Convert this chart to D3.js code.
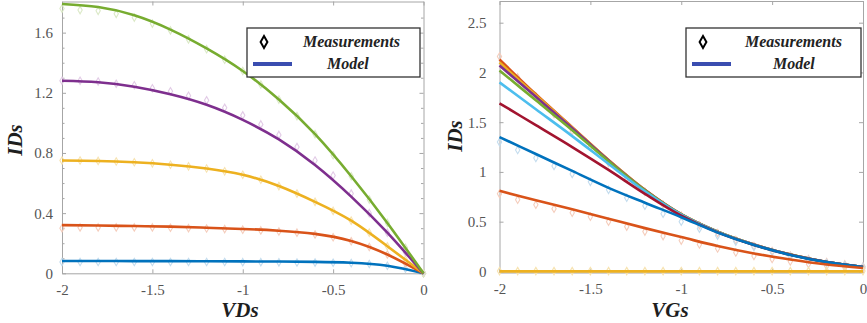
<!DOCTYPE html>
<html>
<head>
<meta charset="utf-8">
<script src="https://cdn.jsdelivr.net/npm/d3@7"></script>
<style>
  html, body { margin: 0; padding: 0; background: #fff; }
  svg { display: block; }
  .axis path, .axis line { stroke: #a6a6a6; }
</style>
</head>
<body>
<svg id="chart" width="867" height="323"></svg>
<script>
// ---------- Output characteristics: IDs vs VDs ----------
const vdsModel = [-2, -1.8, -1.6, -1.4, -1.2, -1, -0.8, -0.6, -0.4, -0.2, 0];
const vdsMeas  = [-2, -1.9, -1.8, -1.7, -1.6, -1.5, -1.4, -1.3, -1.2, -1.1, -1, -0.9, -0.8, -0.7, -0.6, -0.5, -0.4, -0.3, -0.2, -0.1, 0];

const outBlueModel   = [0.082, 0.082, 0.081, 0.081, 0.080, 0.079, 0.078, 0.076, 0.070, 0.050, 0];
const outOrangeModel = [0.320, 0.318, 0.314, 0.310, 0.303, 0.295, 0.283, 0.262, 0.215, 0.125, 0];
const outYellowModel = [0.750, 0.747, 0.738, 0.722, 0.697, 0.655, 0.580, 0.475, 0.350, 0.180, 0];
const outPurpleModel = [1.280, 1.270, 1.240, 1.190, 1.120, 1.020, 0.890, 0.720, 0.510, 0.270, 0];
const outGreenModel  = [1.790, 1.770, 1.715, 1.620, 1.495, 1.345, 1.155, 0.925, 0.645, 0.335, 0];

const outBlueMeas   = [0.075, 0.075, 0.075, 0.075, 0.075, 0.075, 0.075, 0.075, 0.075, 0.075, 0.074, 0.074, 0.073, 0.072, 0.071, 0.070, 0.068, 0.062, 0.050, 0.030, 0];
const outOrangeMeas = [0.300, 0.305, 0.305, 0.305, 0.305, 0.305, 0.303, 0.300, 0.298, 0.294, 0.290, 0.285, 0.278, 0.270, 0.258, 0.240, 0.213, 0.175, 0.125, 0.065, 0];
const outYellowMeas = [0.750, 0.750, 0.747, 0.743, 0.738, 0.731, 0.722, 0.711, 0.697, 0.678, 0.655, 0.622, 0.580, 0.530, 0.475, 0.415, 0.350, 0.270, 0.180, 0.090, 0];
const outPurpleMeas = [1.280, 1.280, 1.275, 1.260, 1.250, 1.230, 1.210, 1.180, 1.150, 1.100, 1.050, 0.990, 0.920, 0.840, 0.750, 0.650, 0.530, 0.400, 0.270, 0.140, 0];
const outGreenMeas  = [1.760, 1.750, 1.745, 1.725, 1.700, 1.660, 1.615, 1.555, 1.490, 1.420, 1.345, 1.255, 1.155, 1.045, 0.925, 0.785, 0.645, 0.490, 0.335, 0.170, 0];

// ---------- Transfer characteristics: IDs vs VGs ----------
const vgsModel = [-2, -1.8, -1.6, -1.4, -1.2, -1, -0.8, -0.6, -0.4, -0.2, 0];
const vgsMeas  = [-2, -1.9, -1.8, -1.7, -1.6, -1.5, -1.4, -1.3, -1.2, -1.1, -1, -0.9, -0.8, -0.7, -0.6, -0.5, -0.4, -0.3, -0.2, -0.1, 0];

const trOrange1Model = [2.130, 1.780, 1.450, 1.120, 0.820, 0.575, 0.400, 0.270, 0.170, 0.095, 0.045];
const trYellow1Model = [2.100, 1.770, 1.445, 1.118, 0.819, 0.574, 0.400, 0.270, 0.170, 0.095, 0.045];
const trPurpleModel  = [2.070, 1.755, 1.438, 1.115, 0.818, 0.573, 0.399, 0.270, 0.170, 0.095, 0.045];
const trGreenModel   = [2.020, 1.720, 1.420, 1.108, 0.815, 0.572, 0.398, 0.269, 0.169, 0.095, 0.045];
const trCyanModel    = [1.900, 1.630, 1.360, 1.080, 0.805, 0.570, 0.397, 0.268, 0.168, 0.094, 0.045];
const trRedModel     = [1.690, 1.470, 1.250, 1.020, 0.780, 0.560, 0.392, 0.266, 0.167, 0.094, 0.045];
const trBlueModel    = [1.350, 1.180, 1.010, 0.840, 0.690, 0.545, 0.390, 0.265, 0.165, 0.093, 0.045];
const trOrange2Model = [0.810, 0.715, 0.625, 0.530, 0.435, 0.345, 0.255, 0.180, 0.120, 0.070, 0.035];
const trYellow2Model = [0, 0, 0, 0, 0, 0, 0, 0, 0, 0, 0];

const trEnvelopeMeas = [2.160, 1.950, 1.760, 1.580, 1.410, 1.250, 1.090, 0.940, 0.800, 0.670, 0.560, 0.465, 0.385, 0.315, 0.255, 0.205, 0.160, 0.125, 0.095, 0.070, 0.050];
const trBlueMeas     = [1.300, 1.220, 1.140, 1.060, 0.980, 0.900, 0.820, 0.740, 0.660, 0.580, 0.500, 0.430, 0.360, 0.300, 0.245, 0.195, 0.150, 0.115, 0.085, 0.060, 0.045];
const trOrange2Meas  = [0.780, 0.720, 0.670, 0.630, 0.590, 0.550, 0.500, 0.450, 0.400, 0.355, 0.310, 0.270, 0.230, 0.190, 0.155, 0.125, 0.100, 0.075, 0.055, 0.040, 0.030];
const trYellow2Meas  = [0.003, 0.003, 0.003, 0.003, 0.003, 0.003, 0.003, 0.003, 0.003, 0.003, 0.003, 0.003, 0.003, 0.003, 0.003, 0.003, 0.003, 0.003, 0.003, 0.003, 0.003];

const xTicks = [-2, -1.5, -1, -0.5, 0];
const outYTicks = [0, 0.4, 0.8, 1.2, 1.6];
const trYTicks  = [0, 0.5, 1, 1.5, 2, 2.5];
const legendLabels = ["Measurements", "Model"];

// MATLAB-style line colours and their pale marker tints
const C = {
  blue:   ["#0072BD", "#c3dcee"],
  orange: ["#D95319", "#f5cdbc"],
  yellow: ["#EDB120", "#f7e3b0"],
  purple: ["#7E2F8E", "#e2cbe6"],
  green:  ["#77AC30", "#dbe9c7"],
  cyan:   ["#4DBEEE", "#cceaf7"],
  red:    ["#A2142F", "#ecc0c8"]
};
const SERIF = "'Liberation Serif', 'Times New Roman', Times, serif";

const svg = d3.select("#chart");

function panel(cfg) {
  const x = d3.scaleLinear().domain([-2, 0]).range([cfg.x0, cfg.x1]);
  const y = d3.scaleLinear().domain(cfg.yDomain).range([cfg.y0, cfg.y1]);
  const g = svg.append("g");

  // plot box (mirrored axes, inward ticks)
  const fmt = d => String(+d.toFixed(2));
  const bottom = g.append("g").attr("class", "axis").attr("transform", `translate(0,${cfg.y0})`)
    .call(d3.axisBottom(x).tickValues(xTicks).tickSizeInner(-4).tickSizeOuter(0).tickPadding(10).tickFormat(fmt));
  g.append("g").attr("class", "axis").attr("transform", `translate(0,${cfg.y1})`)
    .call(d3.axisTop(x).tickValues(xTicks).tickSizeInner(-4).tickSizeOuter(0).tickFormat(""));
  const left = g.append("g").attr("class", "axis").attr("transform", `translate(${cfg.x0},0)`)
    .call(d3.axisLeft(y).tickValues(cfg.yTicks).tickSizeInner(-4).tickSizeOuter(0).tickPadding(cfg.yPad).tickFormat(fmt));
  g.append("g").attr("class", "axis").attr("transform", `translate(${cfg.x1},0)`)
    .call(d3.axisRight(y).tickValues(cfg.yTicks).tickSizeInner(-4).tickSizeOuter(0).tickFormat(""));
  if (cfg.minor) {
    g.append("g").attr("class", "axis").attr("transform", `translate(${cfg.x0},0)`)
      .call(d3.axisLeft(y).tickValues(cfg.minor).tickSizeInner(-2.5).tickSizeOuter(0).tickFormat(""))
      .select(".domain").remove();
    g.append("g").attr("class", "axis").attr("transform", `translate(${cfg.x1},0)`)
      .call(d3.axisRight(y).tickValues(cfg.minor).tickSizeInner(-2.5).tickSizeOuter(0).tickFormat(""))
      .select(".domain").remove();
  }
  [bottom, left].forEach(a => a.selectAll(".tick text")
    .attr("font-family", SERIF).attr("font-size", 15).attr("fill", "#555"));
  left.selectAll(".tick text").attr("dy", "0.33em");
  bottom.selectAll(".tick text").attr("dy", "0.75em");

  const plot = g.append("g");
  // measurements (pale diamonds)
  const diamond = d3.symbol().type(d3.symbolDiamond).size(16);
  cfg.meas.forEach(s => {
    plot.append("g").selectAll("path").data(s.v.map((v, i) => [cfg.xm[i], v])).join("path")
      .attr("d", diamond)
      .attr("transform", d => `translate(${x(d[0])},${y(d[1])})`)
      .attr("fill", "none").attr("stroke", s.c[1]).attr("stroke-width", 1.1);
  });
  // model curves
  const line = d3.line().x(d => x(d[0])).y(d => y(d[1])).curve(cfg.curve);
  cfg.model.forEach(s => {
    plot.append("path").datum(s.v.map((v, i) => [cfg.xs[i], v]))
      .attr("d", line).attr("fill", "none").attr("stroke", s.c[0]).attr("stroke-width", 2.6)
      .attr("stroke-linejoin", "round");
  });

  // axis titles
  g.append("text").attr("font-family", SERIF).attr("font-weight", "bold").attr("font-style", "italic")
    .attr("font-size", 21).attr("fill", "#1e1e1e")
    .attr("x", cfg.xt).attr("y", 317).attr("text-anchor", "middle").text(cfg.xTitle);
  g.append("text").attr("font-family", SERIF).attr("font-weight", "bold").attr("font-style", "italic")
    .attr("font-size", 21).attr("fill", "#1e1e1e")
    .attr("transform", `translate(${cfg.yt[0]},${cfg.yt[1]}) rotate(-90)`)
    .attr("text-anchor", "middle").text("IDs");

  // legend
  const L = cfg.leg;
  const lg = g.append("g").attr("transform", `translate(${L.x},${L.y})`);
  lg.append("rect").attr("width", L.w).attr("height", 49).attr("fill", "#fff")
    .attr("stroke", "#333").attr("stroke-width", 1.3);
  lg.append("path").attr("d", d3.symbol().type(d3.symbolDiamond).size(40))
    .attr("transform", "translate(17,14)").attr("fill", "none").attr("stroke", "#000").attr("stroke-width", 2);
  lg.selectAll("text.leg").data(legendLabels).join("text").attr("class", "leg")
    .attr("font-family", SERIF).attr("font-weight", "bold").attr("font-style", "italic")
    .attr("font-size", 16).attr("fill", "#222")
    .attr("x", (d, i) => i ? L.t2 : L.t1).attr("y", (d, i) => i ? 41 : 19).text(d => d);
  lg.append("line").attr("x1", 6).attr("x2", 45).attr("y1", 36).attr("y2", 36)
    .attr("stroke", "#3a4db0").attr("stroke-width", 4);
}

panel({
  x0: 62, x1: 423.5, y0: 273.3, y1: 1.5, yDomain: [0, 1.807], yTicks: outYTicks, yPad: 9,
  minor: d3.range(1, 18).map(i => i / 10).filter(v => Math.round(v * 10) % 4 !== 0),
  curve: d3.curveNatural,
  xs: vdsModel, xm: vdsMeas, xTitle: "VDs", xt: 240, yt: [22, 140],
  leg: { x: 247, y: 28, w: 173, t1: 56, t2: 80 },
  meas: [
    { v: outBlueMeas, c: C.blue }, { v: outOrangeMeas, c: C.orange }, { v: outYellowMeas, c: C.yellow },
    { v: outPurpleMeas, c: C.purple }, { v: outGreenMeas, c: C.green }
  ],
  model: [
    { v: outBlueModel, c: C.blue }, { v: outOrangeModel, c: C.orange }, { v: outYellowModel, c: C.yellow },
    { v: outPurpleModel, c: C.purple }, { v: outGreenModel, c: C.green }
  ]
});

panel({
  x0: 499.5, x1: 863, y0: 272.5, y1: 1, yDomain: [-0.011, 2.718], yTicks: trYTicks, yPad: 13,
  minor: null,
  curve: d3.curveCatmullRom,
  xs: vgsModel, xm: vgsMeas, xTitle: "VGs", xt: 670, yt: [462, 136],
  leg: { x: 686, y: 28, w: 175, t1: 59, t2: 87 },
  meas: [
    { v: trEnvelopeMeas, c: C.orange }, { v: trBlueMeas, c: C.blue },
    { v: trOrange2Meas, c: C.orange }, { v: trYellow2Meas, c: C.yellow }
  ],
  model: [
    { v: trOrange1Model, c: C.orange }, { v: trYellow1Model, c: C.yellow }, { v: trPurpleModel, c: C.purple },
    { v: trGreenModel, c: C.green }, { v: trCyanModel, c: C.cyan }, { v: trRedModel, c: C.red },
    { v: trBlueModel, c: C.blue }, { v: trOrange2Model, c: C.orange }, { v: trYellow2Model, c: C.yellow }
  ]
});
</script>
</body>
</html>
